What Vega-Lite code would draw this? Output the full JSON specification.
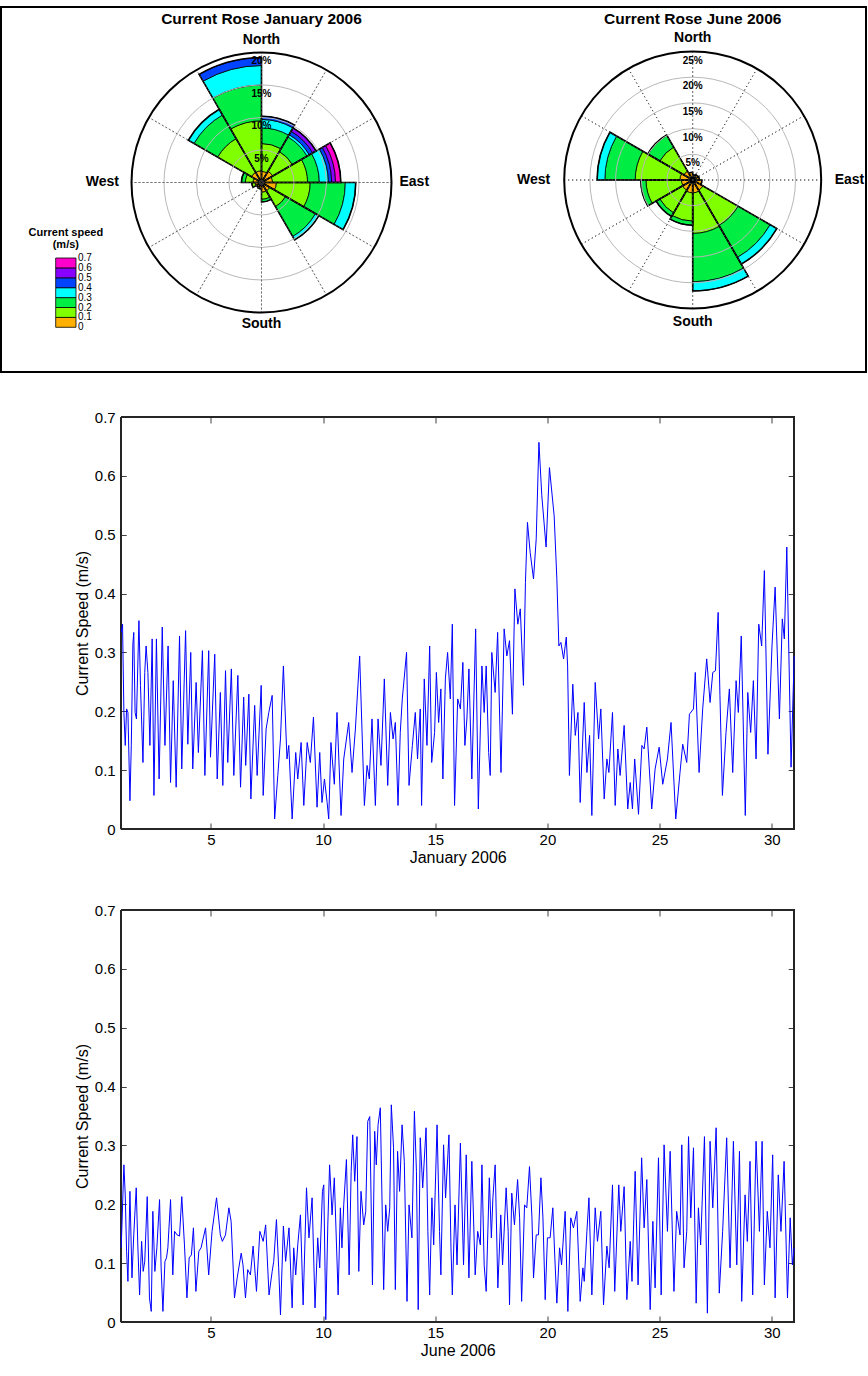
{
"$schema":"https://vega.github.io/schema/vega-lite/v6.json",
"background":"white",
"padding":{"left":0,"top":6,"right":0,"bottom":0},
"config":{"font":"Liberation Sans","view":{"stroke":null}},
"datasets":{
"rose":[
{"m":"Jan","d0":0,"d1":30,"k":0,"p":1.7},{"m":"Jan","d0":0,"d1":30,"k":1,"p":4.3},{"m":"Jan","d0":0,"d1":30,"k":2,"p":2.4},{"m":"Jan","d0":0,"d1":30,"k":3,"p":1.3},{"m":"Jan","d0":0,"d1":30,"k":4,"p":0.5},
{"m":"Jan","d0":30,"d1":60,"k":0,"p":2.0},{"m":"Jan","d0":30,"d1":60,"k":1,"p":3.5},{"m":"Jan","d0":30,"d1":60,"k":2,"p":2.6},{"m":"Jan","d0":30,"d1":60,"k":3,"p":0.4},{"m":"Jan","d0":30,"d1":60,"k":4,"p":0.6},{"m":"Jan","d0":30,"d1":60,"k":5,"p":0.6},
{"m":"Jan","d0":60,"d1":90,"k":0,"p":1.7},{"m":"Jan","d0":60,"d1":90,"k":1,"p":5.4},{"m":"Jan","d0":60,"d1":90,"k":2,"p":1.8},{"m":"Jan","d0":60,"d1":90,"k":3,"p":1.4},{"m":"Jan","d0":60,"d1":90,"k":4,"p":0.5},{"m":"Jan","d0":60,"d1":90,"k":5,"p":0.6},{"m":"Jan","d0":60,"d1":90,"k":6,"p":0.8},
{"m":"Jan","d0":90,"d1":120,"k":0,"p":2.3},{"m":"Jan","d0":90,"d1":120,"k":1,"p":5.2},{"m":"Jan","d0":90,"d1":120,"k":2,"p":5.4},{"m":"Jan","d0":90,"d1":120,"k":3,"p":1.6},
{"m":"Jan","d0":120,"d1":150,"k":0,"p":1.5},{"m":"Jan","d0":120,"d1":150,"k":1,"p":2.8},{"m":"Jan","d0":120,"d1":150,"k":2,"p":5.3},{"m":"Jan","d0":120,"d1":150,"k":3,"p":0.6},
{"m":"Jan","d0":150,"d1":180,"k":0,"p":1.5},{"m":"Jan","d0":150,"d1":180,"k":1,"p":1.1},{"m":"Jan","d0":150,"d1":180,"k":2,"p":0.4},
{"m":"Jan","d0":180,"d1":210,"k":0,"p":1.0},
{"m":"Jan","d0":210,"d1":240,"k":0,"p":0.9},
{"m":"Jan","d0":240,"d1":270,"k":0,"p":1.0},{"m":"Jan","d0":240,"d1":270,"k":1,"p":0.5},
{"m":"Jan","d0":270,"d1":300,"k":0,"p":1.3},{"m":"Jan","d0":270,"d1":300,"k":1,"p":1.2},{"m":"Jan","d0":270,"d1":300,"k":2,"p":0.6},
{"m":"Jan","d0":300,"d1":330,"k":0,"p":1.8},{"m":"Jan","d0":300,"d1":330,"k":1,"p":6.0},{"m":"Jan","d0":300,"d1":330,"k":2,"p":4.2},{"m":"Jan","d0":300,"d1":330,"k":3,"p":1.0},
{"m":"Jan","d0":330,"d1":360,"k":0,"p":1.8},{"m":"Jan","d0":330,"d1":360,"k":1,"p":7.7},{"m":"Jan","d0":330,"d1":360,"k":2,"p":5.5},{"m":"Jan","d0":330,"d1":360,"k":3,"p":3.0},{"m":"Jan","d0":330,"d1":360,"k":4,"p":1.2},
{"m":"Jun","d0":0,"d1":30,"k":0,"p":1.0},
{"m":"Jun","d0":30,"d1":60,"k":0,"p":1.2},
{"m":"Jun","d0":60,"d1":90,"k":0,"p":1.3},
{"m":"Jun","d0":90,"d1":120,"k":0,"p":1.8},
{"m":"Jun","d0":120,"d1":150,"k":0,"p":2.3},{"m":"Jun","d0":120,"d1":150,"k":1,"p":7.9},{"m":"Jun","d0":120,"d1":150,"k":2,"p":7.2},{"m":"Jun","d0":120,"d1":150,"k":3,"p":1.5},
{"m":"Jun","d0":150,"d1":180,"k":0,"p":2.5},{"m":"Jun","d0":150,"d1":180,"k":1,"p":7.9},{"m":"Jun","d0":150,"d1":180,"k":2,"p":9.4},{"m":"Jun","d0":150,"d1":180,"k":3,"p":1.8},
{"m":"Jun","d0":180,"d1":210,"k":0,"p":2.5},{"m":"Jun","d0":180,"d1":210,"k":1,"p":5.5},{"m":"Jun","d0":180,"d1":210,"k":2,"p":0.8},
{"m":"Jun","d0":210,"d1":240,"k":0,"p":2.3},{"m":"Jun","d0":210,"d1":240,"k":1,"p":5.1},{"m":"Jun","d0":210,"d1":240,"k":2,"p":0.8},
{"m":"Jun","d0":240,"d1":270,"k":0,"p":2.2},{"m":"Jun","d0":240,"d1":270,"k":1,"p":6.9},{"m":"Jun","d0":240,"d1":270,"k":2,"p":1.0},
{"m":"Jun","d0":270,"d1":300,"k":0,"p":2.5},{"m":"Jun","d0":270,"d1":300,"k":1,"p":8.7},{"m":"Jun","d0":270,"d1":300,"k":2,"p":5.9},{"m":"Jun","d0":270,"d1":300,"k":3,"p":1.5},
{"m":"Jun","d0":300,"d1":330,"k":0,"p":2.0},{"m":"Jun","d0":300,"d1":330,"k":1,"p":5.4},{"m":"Jun","d0":300,"d1":330,"k":2,"p":2.7},
{"m":"Jun","d0":330,"d1":360,"k":0,"p":1.5}
],
"rings":[
{"m":"Jan","v":5,"kind":"grid","lab":"5%"},{"m":"Jan","v":10,"kind":"grid","lab":"10%"},{"m":"Jan","v":15,"kind":"grid","lab":"15%"},{"m":"Jan","v":20,"kind":"outer","lab":"20%"},
{"m":"Jun","v":5,"kind":"grid","lab":"5%"},{"m":"Jun","v":10,"kind":"grid","lab":"10%"},{"m":"Jun","v":15,"kind":"grid","lab":"15%"},{"m":"Jun","v":20,"kind":"grid","lab":"20%"},{"m":"Jun","v":25,"kind":"outer","lab":"25%"}
],
"spokes":[
{"m":"Jan","a":0},{"m":"Jan","a":30},{"m":"Jan","a":60},{"m":"Jan","a":90},{"m":"Jan","a":120},{"m":"Jan","a":150},{"m":"Jan","a":180},{"m":"Jan","a":210},{"m":"Jan","a":240},{"m":"Jan","a":270},{"m":"Jan","a":300},{"m":"Jan","a":330},
{"m":"Jun","a":0},{"m":"Jun","a":30},{"m":"Jun","a":60},{"m":"Jun","a":90},{"m":"Jun","a":120},{"m":"Jun","a":150},{"m":"Jun","a":180},{"m":"Jun","a":210},{"m":"Jun","a":240},{"m":"Jun","a":270},{"m":"Jun","a":300},{"m":"Jun","a":330}
],
"dirs":[
{"m":"Jan","a":0,"lab":"North"},{"m":"Jan","a":90,"lab":"East"},{"m":"Jan","a":180,"lab":"South"},{"m":"Jan","a":270,"lab":"West"},
{"m":"Jun","a":0,"lab":"North"},{"m":"Jun","a":90,"lab":"East"},{"m":"Jun","a":180,"lab":"South"},{"m":"Jun","a":270,"lab":"West"}
],
"titles":[{"m":"Jan","lab":"Current Rose January 2006"},{"m":"Jun","lab":"Current Rose June 2006"}],
"bins":[{"k":0,"lo":0,"hi":0.1},{"k":1,"lo":0.1,"hi":0.2},{"k":2,"lo":0.2,"hi":0.3},{"k":3,"lo":0.3,"hi":0.4},{"k":4,"lo":0.4,"hi":0.5},{"k":5,"lo":0.5,"hi":0.6},{"k":6,"lo":0.6,"hi":0.7}],
"cbt":[{"v":0},{"v":0.1},{"v":0.2},{"v":0.3},{"v":0.4},{"v":0.5},{"v":0.6},{"v":0.7}],
"jan":[
{"t":1.00,"v":0.334},{"t":1.06,"v":0.348},{"t":1.12,"v":0.198},{"t":1.18,"v":0.142},{"t":1.24,"v":0.204},{"t":1.30,"v":0.198},{"t":1.39,"v":0.048},{"t":1.45,"v":0.142},{"t":1.52,"v":0.314},{"t":1.56,"v":0.334},{"t":1.62,"v":0.198},{"t":1.68,"v":0.187},{"t":1.79,"v":0.354},{"t":1.86,"v":0.244},{"t":1.97,"v":0.113},{"t":2.05,"v":0.266},{"t":2.11,"v":0.311},{"t":2.19,"v":0.266},{"t":2.28,"v":0.142},{"t":2.38,"v":0.323},{"t":2.46,"v":0.057},{"t":2.57,"v":0.323},{"t":2.69,"v":0.085},{"t":2.83,"v":0.343},{"t":2.95,"v":0.142},{"t":3.09,"v":0.311},{"t":3.20,"v":0.079},{"t":3.32,"v":0.252},{"t":3.45,"v":0.071},{"t":3.60,"v":0.328},{"t":3.70,"v":0.102},{"t":3.87,"v":0.337},{"t":3.97,"v":0.144},{"t":4.10,"v":0.300},{"t":4.19,"v":0.102},{"t":4.34,"v":0.249},{"t":4.44,"v":0.130},{"t":4.62,"v":0.303},{"t":4.73,"v":0.091},{"t":4.90,"v":0.303},{"t":4.98,"v":0.122},{"t":5.17,"v":0.297},{"t":5.28,"v":0.085},{"t":5.42,"v":0.232},{"t":5.53,"v":0.074},{"t":5.65,"v":0.269},{"t":5.75,"v":0.113},{"t":5.91,"v":0.272},{"t":6.02,"v":0.091},{"t":6.20,"v":0.261},{"t":6.32,"v":0.071},{"t":6.46,"v":0.224},{"t":6.55,"v":0.108},{"t":6.69,"v":0.229},{"t":6.78,"v":0.051},{"t":6.95,"v":0.210},{"t":7.06,"v":0.091},{"t":7.24,"v":0.244},{"t":7.33,"v":0.057},{"t":7.46,"v":0.170},{"t":7.58,"v":0.198},{"t":7.73,"v":0.227},{"t":7.84,"v":0.017},{"t":7.98,"v":0.091},{"t":8.10,"v":0.153},{"t":8.23,"v":0.277},{"t":8.39,"v":0.119},{"t":8.47,"v":0.142},{"t":8.62,"v":0.017},{"t":8.78,"v":0.130},{"t":8.87,"v":0.085},{"t":9.02,"v":0.147},{"t":9.14,"v":0.040},{"t":9.29,"v":0.147},{"t":9.43,"v":0.113},{"t":9.57,"v":0.190},{"t":9.73,"v":0.037},{"t":9.85,"v":0.130},{"t":9.95,"v":0.045},{"t":10.06,"v":0.085},{"t":10.18,"v":0.045},{"t":10.25,"v":0.017},{"t":10.35,"v":0.147},{"t":10.50,"v":0.076},{"t":10.62,"v":0.198},{"t":10.80,"v":0.023},{"t":10.92,"v":0.119},{"t":11.14,"v":0.181},{"t":11.29,"v":0.096},{"t":11.44,"v":0.170},{"t":11.63,"v":0.294},{"t":11.84,"v":0.040},{"t":11.96,"v":0.108},{"t":12.06,"v":0.085},{"t":12.18,"v":0.187},{"t":12.33,"v":0.040},{"t":12.45,"v":0.187},{"t":12.58,"v":0.108},{"t":12.73,"v":0.255},{"t":12.88,"v":0.074},{"t":13.00,"v":0.198},{"t":13.12,"v":0.153},{"t":13.22,"v":0.181},{"t":13.34,"v":0.040},{"t":13.44,"v":0.164},{"t":13.53,"v":0.221},{"t":13.72,"v":0.300},{"t":13.83,"v":0.074},{"t":13.98,"v":0.142},{"t":14.11,"v":0.198},{"t":14.21,"v":0.119},{"t":14.33,"v":0.204},{"t":14.39,"v":0.040},{"t":14.51,"v":0.255},{"t":14.63,"v":0.142},{"t":14.75,"v":0.311},{"t":14.84,"v":0.113},{"t":14.97,"v":0.164},{"t":15.05,"v":0.266},{"t":15.15,"v":0.181},{"t":15.25,"v":0.238},{"t":15.34,"v":0.085},{"t":15.45,"v":0.255},{"t":15.55,"v":0.300},{"t":15.67,"v":0.221},{"t":15.76,"v":0.348},{"t":15.86,"v":0.040},{"t":16.00,"v":0.221},{"t":16.12,"v":0.204},{"t":16.23,"v":0.283},{"t":16.32,"v":0.142},{"t":16.41,"v":0.187},{"t":16.50,"v":0.272},{"t":16.63,"v":0.085},{"t":16.80,"v":0.340},{"t":16.92,"v":0.034},{"t":17.08,"v":0.277},{"t":17.18,"v":0.198},{"t":17.27,"v":0.277},{"t":17.38,"v":0.130},{"t":17.45,"v":0.091},{"t":17.52,"v":0.300},{"t":17.67,"v":0.232},{"t":17.78,"v":0.334},{"t":17.93,"v":0.096},{"t":18.07,"v":0.340},{"t":18.19,"v":0.294},{"t":18.31,"v":0.320},{"t":18.44,"v":0.195},{"t":18.55,"v":0.408},{"t":18.68,"v":0.348},{"t":18.79,"v":0.374},{"t":18.93,"v":0.244},{"t":19.02,"v":0.419},{"t":19.11,"v":0.521},{"t":19.23,"v":0.470},{"t":19.38,"v":0.425},{"t":19.50,"v":0.493},{"t":19.62,"v":0.657},{"t":19.75,"v":0.566},{"t":19.94,"v":0.479},{"t":20.09,"v":0.614},{"t":20.30,"v":0.532},{"t":20.42,"v":0.425},{"t":20.51,"v":0.311},{"t":20.60,"v":0.317},{"t":20.72,"v":0.289},{"t":20.84,"v":0.326},{"t":20.90,"v":0.277},{"t":20.98,"v":0.091},{"t":21.13,"v":0.246},{"t":21.24,"v":0.159},{"t":21.36,"v":0.198},{"t":21.46,"v":0.045},{"t":21.64,"v":0.215},{"t":21.76,"v":0.096},{"t":21.88,"v":0.159},{"t":21.98,"v":0.023},{"t":22.13,"v":0.249},{"t":22.28,"v":0.153},{"t":22.38,"v":0.204},{"t":22.53,"v":0.051},{"t":22.65,"v":0.119},{"t":22.74,"v":0.096},{"t":22.90,"v":0.198},{"t":23.02,"v":0.040},{"t":23.14,"v":0.136},{"t":23.24,"v":0.091},{"t":23.42,"v":0.176},{"t":23.58,"v":0.034},{"t":23.69,"v":0.079},{"t":23.79,"v":0.034},{"t":23.89,"v":0.119},{"t":24.06,"v":0.025},{"t":24.21,"v":0.142},{"t":24.31,"v":0.136},{"t":24.43,"v":0.173},{"t":24.65,"v":0.034},{"t":24.80,"v":0.102},{"t":24.98,"v":0.139},{"t":25.14,"v":0.076},{"t":25.35,"v":0.119},{"t":25.51,"v":0.181},{"t":25.72,"v":0.017},{"t":25.91,"v":0.096},{"t":26.03,"v":0.144},{"t":26.21,"v":0.113},{"t":26.33,"v":0.195},{"t":26.51,"v":0.204},{"t":26.59,"v":0.266},{"t":26.76,"v":0.096},{"t":26.92,"v":0.204},{"t":27.10,"v":0.289},{"t":27.25,"v":0.215},{"t":27.37,"v":0.266},{"t":27.49,"v":0.269},{"t":27.61,"v":0.368},{"t":27.69,"v":0.227},{"t":27.80,"v":0.057},{"t":27.96,"v":0.164},{"t":28.11,"v":0.238},{"t":28.26,"v":0.096},{"t":28.41,"v":0.252},{"t":28.51,"v":0.198},{"t":28.64,"v":0.328},{"t":28.82,"v":0.023},{"t":28.93,"v":0.232},{"t":29.06,"v":0.164},{"t":29.18,"v":0.252},{"t":29.30,"v":0.119},{"t":29.42,"v":0.348},{"t":29.55,"v":0.311},{"t":29.67,"v":0.439},{"t":29.83,"v":0.127},{"t":30.01,"v":0.311},{"t":30.15,"v":0.411},{"t":30.34,"v":0.187},{"t":30.47,"v":0.357},{"t":30.56,"v":0.323},{"t":30.67,"v":0.479},{"t":30.86,"v":0.105},{"t":31.00,"v":0.294}
],
"jun":[
{"t":1.00,"v":0.126},{"t":1.12,"v":0.267},{"t":1.18,"v":0.216},{"t":1.24,"v":0.120},{"t":1.30,"v":0.069},{"t":1.39,"v":0.222},{"t":1.48,"v":0.075},{"t":1.56,"v":0.148},{"t":1.67,"v":0.228},{"t":1.74,"v":0.131},{"t":1.82,"v":0.046},{"t":1.91,"v":0.137},{"t":1.98,"v":0.086},{"t":2.05,"v":0.103},{"t":2.16,"v":0.213},{"t":2.26,"v":0.041},{"t":2.34,"v":0.018},{"t":2.41,"v":0.188},{"t":2.50,"v":0.086},{"t":2.59,"v":0.126},{"t":2.71,"v":0.208},{"t":2.78,"v":0.092},{"t":2.86,"v":0.018},{"t":2.95,"v":0.103},{"t":3.02,"v":0.109},{"t":3.08,"v":0.126},{"t":3.20,"v":0.208},{"t":3.30,"v":0.080},{"t":3.38,"v":0.154},{"t":3.49,"v":0.148},{"t":3.60,"v":0.146},{"t":3.70,"v":0.213},{"t":3.82,"v":0.131},{"t":3.93,"v":0.041},{"t":4.03,"v":0.109},{"t":4.13,"v":0.114},{"t":4.22,"v":0.160},{"t":4.33,"v":0.052},{"t":4.46,"v":0.120},{"t":4.56,"v":0.126},{"t":4.76,"v":0.160},{"t":4.90,"v":0.080},{"t":5.05,"v":0.154},{"t":5.25,"v":0.211},{"t":5.42,"v":0.148},{"t":5.51,"v":0.137},{"t":5.65,"v":0.148},{"t":5.80,"v":0.194},{"t":5.90,"v":0.171},{"t":6.05,"v":0.041},{"t":6.17,"v":0.075},{"t":6.35,"v":0.117},{"t":6.43,"v":0.097},{"t":6.54,"v":0.041},{"t":6.64,"v":0.089},{"t":6.76,"v":0.080},{"t":6.88,"v":0.129},{"t":7.03,"v":0.052},{"t":7.18,"v":0.154},{"t":7.33,"v":0.137},{"t":7.44,"v":0.165},{"t":7.59,"v":0.046},{"t":7.73,"v":0.086},{"t":7.80,"v":0.103},{"t":7.92,"v":0.174},{"t":8.02,"v":0.092},{"t":8.10,"v":0.012},{"t":8.23,"v":0.163},{"t":8.33,"v":0.103},{"t":8.48,"v":0.160},{"t":8.62,"v":0.024},{"t":8.69,"v":0.126},{"t":8.78,"v":0.080},{"t":8.87,"v":0.131},{"t":8.99,"v":0.182},{"t":9.11,"v":0.029},{"t":9.26,"v":0.228},{"t":9.37,"v":0.143},{"t":9.51,"v":0.211},{"t":9.64,"v":0.024},{"t":9.76,"v":0.143},{"t":9.85,"v":0.092},{"t":9.97,"v":0.222},{"t":10.03,"v":0.233},{"t":10.12,"v":0.004},{"t":10.21,"v":0.165},{"t":10.29,"v":0.267},{"t":10.40,"v":0.182},{"t":10.50,"v":0.245},{"t":10.67,"v":0.046},{"t":10.77,"v":0.194},{"t":10.84,"v":0.126},{"t":10.92,"v":0.199},{"t":11.04,"v":0.276},{"t":11.16,"v":0.080},{"t":11.25,"v":0.256},{"t":11.32,"v":0.318},{"t":11.41,"v":0.239},{"t":11.51,"v":0.315},{"t":11.59,"v":0.086},{"t":11.69,"v":0.222},{"t":11.81,"v":0.165},{"t":11.90,"v":0.188},{"t":11.99,"v":0.341},{"t":12.08,"v":0.349},{"t":12.20,"v":0.063},{"t":12.30,"v":0.324},{"t":12.37,"v":0.267},{"t":12.45,"v":0.335},{"t":12.55,"v":0.364},{"t":12.70,"v":0.055},{"t":12.79,"v":0.199},{"t":12.88,"v":0.154},{"t":12.97,"v":0.194},{"t":13.04,"v":0.369},{"t":13.14,"v":0.296},{"t":13.22,"v":0.055},{"t":13.32,"v":0.290},{"t":13.41,"v":0.222},{"t":13.52,"v":0.335},{"t":13.62,"v":0.273},{"t":13.74,"v":0.035},{"t":13.83,"v":0.199},{"t":13.96,"v":0.143},{"t":14.07,"v":0.358},{"t":14.16,"v":0.256},{"t":14.24,"v":0.021},{"t":14.33,"v":0.313},{"t":14.44,"v":0.228},{"t":14.59,"v":0.330},{"t":14.67,"v":0.154},{"t":14.75,"v":0.046},{"t":14.85,"v":0.211},{"t":14.93,"v":0.131},{"t":15.08,"v":0.335},{"t":15.19,"v":0.154},{"t":15.25,"v":0.080},{"t":15.37,"v":0.301},{"t":15.46,"v":0.211},{"t":15.61,"v":0.318},{"t":15.70,"v":0.126},{"t":15.76,"v":0.046},{"t":15.88,"v":0.199},{"t":15.97,"v":0.097},{"t":16.12,"v":0.304},{"t":16.26,"v":0.097},{"t":16.38,"v":0.284},{"t":16.50,"v":0.075},{"t":16.63,"v":0.273},{"t":16.78,"v":0.080},{"t":16.89,"v":0.154},{"t":17.01,"v":0.131},{"t":17.08,"v":0.267},{"t":17.18,"v":0.097},{"t":17.27,"v":0.052},{"t":17.41,"v":0.245},{"t":17.50,"v":0.143},{"t":17.57,"v":0.211},{"t":17.67,"v":0.267},{"t":17.79,"v":0.058},{"t":17.92,"v":0.182},{"t":18.00,"v":0.097},{"t":18.16,"v":0.228},{"t":18.25,"v":0.154},{"t":18.31,"v":0.029},{"t":18.41,"v":0.219},{"t":18.53,"v":0.165},{"t":18.67,"v":0.242},{"t":18.76,"v":0.177},{"t":18.85,"v":0.035},{"t":18.98,"v":0.199},{"t":19.08,"v":0.194},{"t":19.20,"v":0.264},{"t":19.31,"v":0.177},{"t":19.38,"v":0.075},{"t":19.50,"v":0.148},{"t":19.60,"v":0.148},{"t":19.71,"v":0.245},{"t":19.80,"v":0.177},{"t":19.90,"v":0.038},{"t":20.00,"v":0.143},{"t":20.12,"v":0.143},{"t":20.24,"v":0.194},{"t":20.33,"v":0.109},{"t":20.42,"v":0.032},{"t":20.54,"v":0.126},{"t":20.63,"v":0.097},{"t":20.79,"v":0.188},{"t":20.91,"v":0.018},{"t":21.04,"v":0.177},{"t":21.16,"v":0.160},{"t":21.31,"v":0.188},{"t":21.46,"v":0.035},{"t":21.58,"v":0.092},{"t":21.64,"v":0.069},{"t":21.76,"v":0.154},{"t":21.85,"v":0.211},{"t":21.98,"v":0.046},{"t":22.13,"v":0.194},{"t":22.23,"v":0.137},{"t":22.38,"v":0.188},{"t":22.50,"v":0.029},{"t":22.65,"v":0.129},{"t":22.75,"v":0.092},{"t":22.90,"v":0.233},{"t":23.00,"v":0.052},{"t":23.18,"v":0.233},{"t":23.27,"v":0.154},{"t":23.42,"v":0.230},{"t":23.54,"v":0.038},{"t":23.69,"v":0.137},{"t":23.77,"v":0.069},{"t":23.91,"v":0.256},{"t":24.04,"v":0.063},{"t":24.20,"v":0.279},{"t":24.31,"v":0.160},{"t":24.43,"v":0.242},{"t":24.58,"v":0.021},{"t":24.70,"v":0.171},{"t":24.80,"v":0.058},{"t":24.95,"v":0.279},{"t":25.07,"v":0.046},{"t":25.20,"v":0.301},{"t":25.35,"v":0.154},{"t":25.47,"v":0.290},{"t":25.64,"v":0.052},{"t":25.76,"v":0.188},{"t":25.91,"v":0.148},{"t":25.99,"v":0.301},{"t":26.09,"v":0.092},{"t":26.21,"v":0.154},{"t":26.29,"v":0.315},{"t":26.39,"v":0.177},{"t":26.51,"v":0.296},{"t":26.63,"v":0.032},{"t":26.73,"v":0.194},{"t":26.83,"v":0.131},{"t":27.00,"v":0.315},{"t":27.13,"v":0.015},{"t":27.25,"v":0.307},{"t":27.37,"v":0.194},{"t":27.52,"v":0.330},{"t":27.66,"v":0.049},{"t":27.81,"v":0.154},{"t":27.99,"v":0.313},{"t":28.14,"v":0.092},{"t":28.29,"v":0.307},{"t":28.44,"v":0.097},{"t":28.56,"v":0.290},{"t":28.66,"v":0.035},{"t":28.81,"v":0.216},{"t":28.91,"v":0.137},{"t":29.03,"v":0.273},{"t":29.15,"v":0.046},{"t":29.30,"v":0.307},{"t":29.45,"v":0.154},{"t":29.57,"v":0.307},{"t":29.67,"v":0.063},{"t":29.80,"v":0.188},{"t":29.92,"v":0.126},{"t":30.04,"v":0.284},{"t":30.15,"v":0.041},{"t":30.29,"v":0.250},{"t":30.41,"v":0.154},{"t":30.55,"v":0.273},{"t":30.70,"v":0.041},{"t":30.82,"v":0.177},{"t":30.92,"v":0.097},{"t":31.00,"v":0.126}
]
},
"spacing":37,
"center":true,
"vconcat":[
{
"width":865,"height":365,
"view":{"stroke":"#000000","strokeWidth":2},
"resolve":{"scale":{"x":"independent","y":"independent","radius":"independent"}},
"layer":[
{
"encoding":{
"x":{"field":"m","type":"nominal","axis":null,"scale":{"type":"point","domain":["Jan","Jun"],"padding":0.503,"align":0.6005,"round":false}},
"y":{"datum":"c","type":"nominal","axis":null,"scale":{"type":"point","domain":["c"],"align":0.4808,"round":false}}
},
"layer":[
{"data":{"name":"rose"},"transform":[{"filter":"datum.m == 'Jan'"},{"stack":"p","groupby":["d0"],"sort":[{"field":"k","order":"ascending"}],"as":["r1","r2"]}],
"mark":{"type":"arc","stroke":"#000000","strokeWidth":0.8},
"encoding":{"theta":{"field":"d0","type":"quantitative","stack":null,"scale":{"domain":[0,360]}},"theta2":{"field":"d1"},
"radius":{"field":"r2","type":"quantitative","stack":null,"scale":{"type":"linear","domain":[0,20],"range":[0,130],"zero":true,"nice":false}},"radius2":{"field":"r1"},
"color":{"field":"k","type":"ordinal","legend":null,"scale":{"domain":[0,1,2,3,4,5,6],"range":["#FFB000","#80FF00","#00EE44","#00FFFF","#0044FF","#8800FF","#FF00CC"]}}}},
{"data":{"name":"rose"},"transform":[{"filter":"datum.m == 'Jan'"},{"aggregate":[{"op":"sum","field":"p","as":"tot"}],"groupby":["m","d0","d1"]}],
"mark":{"type":"arc","filled":false,"stroke":"#000000","strokeWidth":1.6},
"encoding":{"theta":{"field":"d0","type":"quantitative","stack":null,"scale":{"domain":[0,360]}},"theta2":{"field":"d1"},
"radius":{"field":"tot","type":"quantitative","stack":null,"scale":{"type":"linear","domain":[0,20],"range":[0,130],"zero":true,"nice":false}}}},
{"data":{"name":"rings"},"transform":[{"filter":"datum.m == 'Jan' && datum.kind == 'grid'"}],
"mark":{"type":"arc","filled":false,"stroke":"#b8b8b8","strokeWidth":1},
"encoding":{"theta":{"datum":0,"type":"quantitative","stack":null,"scale":{"domain":[0,360]}},"theta2":{"datum":360},
"radius":{"field":"v","type":"quantitative","stack":null,"scale":{"type":"linear","domain":[0,20],"range":[0,130],"zero":true,"nice":false}}}},
{"data":{"name":"spokes"},"transform":[{"filter":"datum.m == 'Jan'"}],
"mark":{"type":"arc","filled":false,"stroke":"#444444","strokeWidth":1,"strokeDash":[1,3]},
"encoding":{"theta":{"field":"a","type":"quantitative","stack":null,"scale":{"domain":[0,360]}},"theta2":{"field":"a"},
"radius":{"datum":20,"type":"quantitative","stack":null,"scale":{"type":"linear","domain":[0,20],"range":[0,130],"zero":true,"nice":false}}}},
{"data":{"name":"rings"},"transform":[{"filter":"datum.m == 'Jan' && datum.kind == 'outer'"}],
"mark":{"type":"arc","filled":false,"stroke":"#000000","strokeWidth":2},
"encoding":{"theta":{"datum":0,"type":"quantitative","stack":null,"scale":{"domain":[0,360]}},"theta2":{"datum":360},
"radius":{"field":"v","type":"quantitative","stack":null,"scale":{"type":"linear","domain":[0,20],"range":[0,130],"zero":true,"nice":false}}}},
{"data":{"name":"rings"},"transform":[{"filter":"datum.m == 'Jan'"}],
"mark":{"type":"text","dy":9,"fontSize":10,"fontWeight":"bold","color":"#000000"},
"encoding":{"theta":{"datum":0,"type":"quantitative","stack":null,"scale":{"domain":[0,360]}},
"radius":{"field":"v","type":"quantitative","stack":null,"scale":{"type":"linear","domain":[0,20],"range":[0,130],"zero":true,"nice":false}},"text":{"field":"lab"}}},
{"data":{"name":"dirs"},"transform":[{"filter":"datum.m == 'Jan' && (datum.a == 0 || datum.a == 180)"}],
"mark":{"type":"text","align":"center","baseline":"middle","radiusOffset":12,"fontSize":14,"fontWeight":"bold","color":"#000000"},
"encoding":{"theta":{"field":"a","type":"quantitative","stack":null,"scale":{"domain":[0,360]}},
"radius":{"datum":20,"type":"quantitative","stack":null,"scale":{"type":"linear","domain":[0,20],"range":[0,130],"zero":true,"nice":false}},"text":{"field":"lab"}}},
{"data":{"name":"dirs"},"transform":[{"filter":"datum.m == 'Jan' && datum.a == 90"}],
"mark":{"type":"text","align":"left","baseline":"middle","radiusOffset":8,"fontSize":14,"fontWeight":"bold","color":"#000000"},
"encoding":{"theta":{"field":"a","type":"quantitative","stack":null,"scale":{"domain":[0,360]}},
"radius":{"datum":20,"type":"quantitative","stack":null,"scale":{"type":"linear","domain":[0,20],"range":[0,130],"zero":true,"nice":false}},"text":{"field":"lab"}}},
{"data":{"name":"dirs"},"transform":[{"filter":"datum.m == 'Jan' && datum.a == 270"}],
"mark":{"type":"text","align":"right","baseline":"middle","radiusOffset":12.5,"fontSize":14,"fontWeight":"bold","color":"#000000"},
"encoding":{"theta":{"field":"a","type":"quantitative","stack":null,"scale":{"domain":[0,360]}},
"radius":{"datum":20,"type":"quantitative","stack":null,"scale":{"type":"linear","domain":[0,20],"range":[0,130],"zero":true,"nice":false}},"text":{"field":"lab"}}},
{"data":{"name":"titles"},"transform":[{"filter":"datum.m == 'Jan'"}],
"mark":{"type":"text","align":"center","baseline":"middle","radiusOffset":33.5,"fontSize":15.5,"fontWeight":"bold","color":"#000000"},
"encoding":{"theta":{"datum":0,"type":"quantitative","stack":null,"scale":{"domain":[0,360]}},
"radius":{"datum":20,"type":"quantitative","stack":null,"scale":{"type":"linear","domain":[0,20],"range":[0,130],"zero":true,"nice":false}},"text":{"field":"lab"}}}
]
},
{
"encoding":{
"x":{"field":"m","type":"nominal","axis":null,"scale":{"type":"point","domain":["Jan","Jun"],"padding":0.503,"align":0.6005,"round":false}},
"y":{"datum":"c","type":"nominal","axis":null,"scale":{"type":"point","domain":["c"],"align":0.474,"round":false}}
},
"layer":[
{"data":{"name":"rose"},"transform":[{"filter":"datum.m == 'Jun'"},{"stack":"p","groupby":["d0"],"sort":[{"field":"k","order":"ascending"}],"as":["r1","r2"]}],
"mark":{"type":"arc","stroke":"#000000","strokeWidth":0.8},
"encoding":{"theta":{"field":"d0","type":"quantitative","stack":null,"scale":{"domain":[0,360]}},"theta2":{"field":"d1"},
"radius":{"field":"r2","type":"quantitative","stack":null,"scale":{"type":"linear","domain":[0,25],"range":[0,128.5],"zero":true,"nice":false}},"radius2":{"field":"r1"},
"color":{"field":"k","type":"ordinal","legend":null,"scale":{"domain":[0,1,2,3,4,5,6],"range":["#FFB000","#80FF00","#00EE44","#00FFFF","#0044FF","#8800FF","#FF00CC"]}}}},
{"data":{"name":"rose"},"transform":[{"filter":"datum.m == 'Jun'"},{"aggregate":[{"op":"sum","field":"p","as":"tot"}],"groupby":["m","d0","d1"]}],
"mark":{"type":"arc","filled":false,"stroke":"#000000","strokeWidth":1.6},
"encoding":{"theta":{"field":"d0","type":"quantitative","stack":null,"scale":{"domain":[0,360]}},"theta2":{"field":"d1"},
"radius":{"field":"tot","type":"quantitative","stack":null,"scale":{"type":"linear","domain":[0,25],"range":[0,128.5],"zero":true,"nice":false}}}},
{"data":{"name":"rings"},"transform":[{"filter":"datum.m == 'Jun' && datum.kind == 'grid'"}],
"mark":{"type":"arc","filled":false,"stroke":"#b8b8b8","strokeWidth":1},
"encoding":{"theta":{"datum":0,"type":"quantitative","stack":null,"scale":{"domain":[0,360]}},"theta2":{"datum":360},
"radius":{"field":"v","type":"quantitative","stack":null,"scale":{"type":"linear","domain":[0,25],"range":[0,128.5],"zero":true,"nice":false}}}},
{"data":{"name":"spokes"},"transform":[{"filter":"datum.m == 'Jun'"}],
"mark":{"type":"arc","filled":false,"stroke":"#444444","strokeWidth":1,"strokeDash":[1,3]},
"encoding":{"theta":{"field":"a","type":"quantitative","stack":null,"scale":{"domain":[0,360]}},"theta2":{"field":"a"},
"radius":{"datum":25,"type":"quantitative","stack":null,"scale":{"type":"linear","domain":[0,25],"range":[0,128.5],"zero":true,"nice":false}}}},
{"data":{"name":"rings"},"transform":[{"filter":"datum.m == 'Jun' && datum.kind == 'outer'"}],
"mark":{"type":"arc","filled":false,"stroke":"#000000","strokeWidth":2},
"encoding":{"theta":{"datum":0,"type":"quantitative","stack":null,"scale":{"domain":[0,360]}},"theta2":{"datum":360},
"radius":{"field":"v","type":"quantitative","stack":null,"scale":{"type":"linear","domain":[0,25],"range":[0,128.5],"zero":true,"nice":false}}}},
{"data":{"name":"rings"},"transform":[{"filter":"datum.m == 'Jun'"}],
"mark":{"type":"text","dy":9,"fontSize":10,"fontWeight":"bold","color":"#000000"},
"encoding":{"theta":{"datum":0,"type":"quantitative","stack":null,"scale":{"domain":[0,360]}},
"radius":{"field":"v","type":"quantitative","stack":null,"scale":{"type":"linear","domain":[0,25],"range":[0,128.5],"zero":true,"nice":false}},"text":{"field":"lab"}}},
{"data":{"name":"dirs"},"transform":[{"filter":"datum.m == 'Jun' && (datum.a == 0 || datum.a == 180)"}],
"mark":{"type":"text","align":"center","baseline":"middle","radiusOffset":13.5,"fontSize":14,"fontWeight":"bold","color":"#000000"},
"encoding":{"theta":{"field":"a","type":"quantitative","stack":null,"scale":{"domain":[0,360]}},
"radius":{"datum":25,"type":"quantitative","stack":null,"scale":{"type":"linear","domain":[0,25],"range":[0,128.5],"zero":true,"nice":false}},"text":{"field":"lab"}}},
{"data":{"name":"dirs"},"transform":[{"filter":"datum.m == 'Jun' && datum.a == 90"}],
"mark":{"type":"text","align":"left","baseline":"middle","radiusOffset":13.5,"fontSize":14,"fontWeight":"bold","color":"#000000"},
"encoding":{"theta":{"field":"a","type":"quantitative","stack":null,"scale":{"domain":[0,360]}},
"radius":{"datum":25,"type":"quantitative","stack":null,"scale":{"type":"linear","domain":[0,25],"range":[0,128.5],"zero":true,"nice":false}},"text":{"field":"lab"}}},
{"data":{"name":"dirs"},"transform":[{"filter":"datum.m == 'Jun' && datum.a == 270"}],
"mark":{"type":"text","align":"right","baseline":"middle","radiusOffset":14,"fontSize":14,"fontWeight":"bold","color":"#000000"},
"encoding":{"theta":{"field":"a","type":"quantitative","stack":null,"scale":{"domain":[0,360]}},
"radius":{"datum":25,"type":"quantitative","stack":null,"scale":{"type":"linear","domain":[0,25],"range":[0,128.5],"zero":true,"nice":false}},"text":{"field":"lab"}}},
{"data":{"name":"titles"},"transform":[{"filter":"datum.m == 'Jun'"}],
"mark":{"type":"text","align":"center","baseline":"middle","radiusOffset":32.3,"fontSize":15.5,"fontWeight":"bold","color":"#000000"},
"encoding":{"theta":{"datum":0,"type":"quantitative","stack":null,"scale":{"domain":[0,360]}},
"radius":{"datum":25,"type":"quantitative","stack":null,"scale":{"type":"linear","domain":[0,25],"range":[0,128.5],"zero":true,"nice":false}},"text":{"field":"lab"}}}
]
},
{
"layer":[
{"data":{"name":"bins"},"mark":{"type":"rect","stroke":"#000000","strokeWidth":0.8},
"encoding":{"x":{"datum":0,"type":"quantitative","axis":null,"scale":{"domain":[0,1],"range":[54.7,75]}},"x2":{"datum":1},
"y":{"field":"lo","type":"quantitative","axis":null,"scale":{"domain":[0,0.7],"range":[320.3,251],"zero":false,"nice":false}},"y2":{"field":"hi"},
"color":{"field":"k","type":"ordinal","legend":null,"scale":{"domain":[0,1,2,3,4,5,6],"range":["#FFB000","#80FF00","#00EE44","#00FFFF","#0044FF","#8800FF","#FF00CC"]}}}},
{"data":{"name":"cbt"},"mark":{"type":"text","align":"left","baseline":"middle","dx":2,"fontSize":10,"color":"#000000"},
"encoding":{"x":{"datum":1,"type":"quantitative","axis":null,"scale":{"domain":[0,1],"range":[54.7,75]}},
"y":{"field":"v","type":"quantitative","axis":null,"scale":{"domain":[0,0.7],"range":[320.3,251],"zero":false,"nice":false}},
"text":{"field":"v","type":"quantitative","format":".1~f"}}},
{"data":{"values":[{"n":1}]},"mark":{"type":"text","text":["Current speed","(m/s)"],"align":"center","baseline":"middle","dy":-25,"fontSize":11,"fontWeight":"bold","lineHeight":12,"color":"#000000"},
"encoding":{"x":{"datum":0.5,"type":"quantitative","axis":null,"scale":{"domain":[0,1],"range":[54.7,75]}},
"y":{"datum":0.7,"type":"quantitative","axis":null,"scale":{"domain":[0,0.7],"range":[320.3,251],"zero":false,"nice":false}}}}
]
}
]
},
{
"spacing":37,
"vconcat":[
{
"width":865,"height":412,
"data":{"name":"jan"},
"resolve":{"scale":{"x":"independent","y":"independent"}},
"layer":[
{"layer":[
{"mark":{"type":"rect","filled":false,"stroke":"#262626","strokeWidth":1},
"encoding":{
"x":{"datum":1,"type":"quantitative","scale":{"domain":[1,31],"range":[119.7,792.7],"nice":false,"zero":false},
"axis":{"values":[5,10,15,20,25,30],"title":"January 2006","domain":false,"grid":false,"tickSize":-6,"tickColor":"#404040","labelPadding":9,"labelFontSize":15,"labelColor":"#000000","titleFontSize":16,"titleFontWeight":"normal","titleColor":"#000000","titlePadding":2.5,"labelFlush":false,"minExtent":0}},
"x2":{"datum":31},
"y":{"datum":0,"type":"quantitative","scale":{"domain":[0,0.7],"nice":false,"zero":false},
"axis":{"values":[0,0.1,0.2,0.3,0.4,0.5,0.6,0.7],"format":".1~f","title":"Current Speed (m/s)","offset":-118.7,"domain":false,"grid":false,"tickSize":-6,"tickColor":"#404040","labelPadding":11,"labelFontSize":15,"labelColor":"#000000","titleFontSize":16,"titleFontWeight":"normal","titleColor":"#000000","titlePadding":4,"minExtent":0}},
"y2":{"datum":0.7}}},
{"mark":{"type":"line","stroke":"#0000FF","strokeWidth":1},
"encoding":{
"x":{"field":"t","type":"quantitative","scale":{"domain":[1,31],"range":[119.7,792.7],"nice":false,"zero":false}},
"y":{"field":"v","type":"quantitative","scale":{"domain":[0,0.7],"nice":false,"zero":false}}}}
]},
{"mark":{"type":"point","opacity":0},
"encoding":{
"x":{"field":"t","type":"quantitative","scale":{"domain":[1,31],"range":[119.7,792.7],"nice":false,"zero":false},"axis":{"orient":"top","values":[5,10,15,20,25,30],"labels":false,"title":null,"domain":false,"grid":false,"tickSize":-6,"tickColor":"#404040","minExtent":0,"maxExtent":0}},
"y":{"field":"v","type":"quantitative","scale":{"domain":[0,0.7],"nice":false,"zero":false},"axis":{"orient":"right","offset":-72.3,"values":[0.1,0.2,0.3,0.4,0.5,0.6],"labels":false,"title":null,"domain":false,"grid":false,"tickSize":-6,"tickColor":"#404040","minExtent":0,"maxExtent":0}}}}
]
},
{
"width":865,"height":412,
"data":{"name":"jun"},
"resolve":{"scale":{"x":"independent","y":"independent"}},
"layer":[
{"layer":[
{"mark":{"type":"rect","filled":false,"stroke":"#262626","strokeWidth":1},
"encoding":{
"x":{"datum":1,"type":"quantitative","scale":{"domain":[1,31],"range":[119.7,792.7],"nice":false,"zero":false},
"axis":{"values":[5,10,15,20,25,30],"title":"June 2006","domain":false,"grid":false,"tickSize":-6,"tickColor":"#404040","labelPadding":9,"labelFontSize":15,"labelColor":"#000000","titleFontSize":16,"titleFontWeight":"normal","titleColor":"#000000","titlePadding":2.5,"labelFlush":false,"minExtent":0}},
"x2":{"datum":31},
"y":{"datum":0,"type":"quantitative","scale":{"domain":[0,0.7],"nice":false,"zero":false},
"axis":{"values":[0,0.1,0.2,0.3,0.4,0.5,0.6,0.7],"format":".1~f","title":"Current Speed (m/s)","offset":-118.7,"domain":false,"grid":false,"tickSize":-6,"tickColor":"#404040","labelPadding":11,"labelFontSize":15,"labelColor":"#000000","titleFontSize":16,"titleFontWeight":"normal","titleColor":"#000000","titlePadding":4,"minExtent":0}},
"y2":{"datum":0.7}}},
{"mark":{"type":"line","stroke":"#0000FF","strokeWidth":1},
"encoding":{
"x":{"field":"t","type":"quantitative","scale":{"domain":[1,31],"range":[119.7,792.7],"nice":false,"zero":false}},
"y":{"field":"v","type":"quantitative","scale":{"domain":[0,0.7],"nice":false,"zero":false}}}}
]},
{"mark":{"type":"point","opacity":0},
"encoding":{
"x":{"field":"t","type":"quantitative","scale":{"domain":[1,31],"range":[119.7,792.7],"nice":false,"zero":false},"axis":{"orient":"top","values":[5,10,15,20,25,30],"labels":false,"title":null,"domain":false,"grid":false,"tickSize":-6,"tickColor":"#404040","minExtent":0,"maxExtent":0}},
"y":{"field":"v","type":"quantitative","scale":{"domain":[0,0.7],"nice":false,"zero":false},"axis":{"orient":"right","offset":-72.3,"values":[0.1,0.2,0.3,0.4,0.5,0.6],"labels":false,"title":null,"domain":false,"grid":false,"tickSize":-6,"tickColor":"#404040","minExtent":0,"maxExtent":0}}}}
]
}
]
}
]
}
